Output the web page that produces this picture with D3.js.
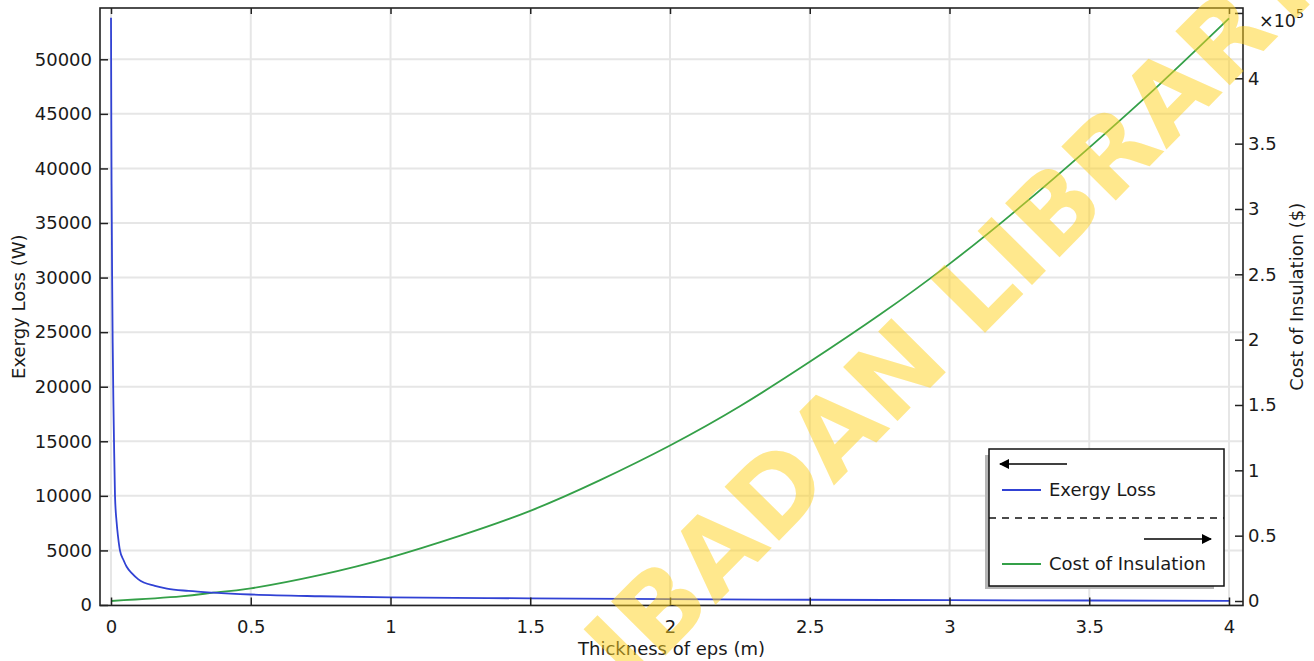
<!DOCTYPE html>
<html>
<head>
<meta charset="utf-8">
<script src="https://cdn.jsdelivr.net/npm/d3@7"></script>
<style>
  html, body { margin: 0; padding: 0; background: #fff; }
  svg { display: block; }
  text { font-family: "DejaVu Sans", sans-serif; fill: #1a1a1a; }
</style>
</head>
<body>
<svg id="chart" width="1314" height="661"></svg>
<script>
// ---- data ----
const thicknessExergy = [0, 0.001, 0.002, 0.004, 0.006, 0.0084, 0.0107, 0.0143, 0.02, 0.025, 0.032, 0.045, 0.056, 0.075, 0.098, 0.157, 0.2, 0.277, 0.366, 0.5, 0.75, 1, 1.5, 2, 2.5, 3, 3.5, 4];
const exergyLoss = [53800, 45000, 38500, 30000, 24000, 18800, 15000, 10000, 7600, 6300, 5000, 4100, 3500, 2900, 2350, 1750, 1500, 1290, 1130, 960, 800, 700, 610, 530, 480, 440, 410, 385];

const thicknessCost = [0, 0.25, 0.366, 0.5, 0.75, 1, 1.25, 1.5, 1.75, 2, 2.25, 2.5, 2.75, 3, 3.25, 3.5, 3.75, 4];
const costInsulation = [0, 3500, 6400, 9700, 20000, 33400, 50000, 69000, 92500, 119000, 149000, 183000, 219000, 258000, 301000, 347000, 395000, 445800];

const xTickValues = [0, 0.5, 1, 1.5, 2, 2.5, 3, 3.5, 4];
const xTickLabels = ["0", "0.5", "1", "1.5", "2", "2.5", "3", "3.5", "4"];
const yLeftTickValues = [0, 5000, 10000, 15000, 20000, 25000, 30000, 35000, 40000, 45000, 50000];
const yRightTickValues = [0, 0.5, 1, 1.5, 2, 2.5, 3, 3.5, 4, 4.5];
const yRightTickLabels = ["0", "0.5", "1", "1.5", "2", "2.5", "3", "3.5", "4", ""];

const seriesNames = ["Exergy Loss", "Cost of Insulation"];
const seriesColors = ["#3142d4", "#34a048"];
const xTitle = "Thickness of eps (m)";
const yLeftTitle = "Exergy Loss (W)";
const yRightTitle = "Cost of Insulation ($)";
const watermark = "UNIVERSITY OF IBADAN LIBRARY";

// ---- layout ----
const plot = { left: 100, right: 1243, top: 8, bottom: 605.5 };
const FS = 18;

const svg = d3.select("#chart");

const x = d3.scaleLinear().domain([-0.0394, 4.0501]).range([plot.left, plot.right]);
const yL = d3.scaleLinear().domain([-46, 54700]).range([plot.bottom, plot.top]);
const yR = d3.scaleLinear().domain([-0.0344, 4.538]).range([plot.bottom, plot.top]);

const defs = svg.append("defs");
defs.append("clipPath").attr("id", "clip")
  .append("rect").attr("x", plot.left).attr("y", plot.top)
  .attr("width", plot.right - plot.left).attr("height", plot.bottom - plot.top);

// grid
const grid = svg.append("g");
grid.selectAll("line.v").data(xTickValues).join("line")
  .attr("x1", d => x(d)).attr("x2", d => x(d))
  .attr("y1", plot.top).attr("y2", plot.bottom)
  .attr("stroke", "#e6e6e6").attr("stroke-width", 2);
grid.selectAll("line.h").data(yLeftTickValues).join("line")
  .attr("x1", plot.left).attr("x2", plot.right)
  .attr("y1", d => yL(d)).attr("y2", d => yL(d))
  .attr("stroke", "#e6e6e6").attr("stroke-width", 2);

// lines
const lines = svg.append("g").attr("clip-path", "url(#clip)");
const exergyData = thicknessExergy.map((t, i) => [t, exergyLoss[i]]);
const costData = thicknessCost.map((t, i) => [t, costInsulation[i] / 1e5]);

lines.append("path").datum(costData)
  .attr("fill", "none").attr("stroke", seriesColors[1]).attr("stroke-width", 1.8)
  .attr("d", d3.line().x(d => x(d[0])).y(d => yR(d[1])).curve(d3.curveNatural));
lines.append("path").datum(exergyData)
  .attr("fill", "none").attr("stroke", seriesColors[0]).attr("stroke-width", 1.8)
  .attr("d", d3.line().x(d => x(d[0])).y(d => yL(d[1])).curve(d3.curveMonotoneX));

// axes (ticks inward)
const axisColor = "#222";
const bottomAxis = d3.axisBottom(x).tickValues(xTickValues).tickSize(-8).tickPadding(15)
  .tickFormat((d, i) => xTickLabels[i]);
const topAxis = d3.axisTop(x).tickValues(xTickValues).tickSize(-6).tickFormat("");
const leftAxis = d3.axisLeft(yL).tickValues(yLeftTickValues).tickSize(-8).tickPadding(8).tickFormat(d3.format("d"));
const rightAxis = d3.axisRight(yR).tickValues(yRightTickValues).tickSize(-8).tickPadding(5)
  .tickFormat((d, i) => yRightTickLabels[i]);

function styleAxis(g) {
  g.select(".domain").remove();
  g.selectAll(".tick line").attr("stroke", axisColor).attr("stroke-width", 1.5);
  g.selectAll(".tick text").attr("font-size", FS).attr("font-family", "DejaVu Sans").attr("fill", "#1a1a1a");
}
svg.append("g").attr("transform", `translate(0,${plot.bottom})`).call(bottomAxis).call(styleAxis);
svg.append("g").attr("transform", `translate(0,${plot.top})`).call(topAxis).call(styleAxis);
svg.append("g").attr("transform", `translate(${plot.left},0)`).call(leftAxis).call(styleAxis);
svg.append("g").attr("transform", `translate(${plot.right},0)`).call(rightAxis).call(styleAxis);

// frame
svg.append("rect").attr("x", plot.left).attr("y", plot.top)
  .attr("width", plot.right - plot.left).attr("height", plot.bottom - plot.top)
  .attr("fill", "none").attr("stroke", axisColor).attr("stroke-width", 1.6);

// titles
svg.append("text").attr("x", (plot.left + plot.right) / 2).attr("y", 655)
  .attr("text-anchor", "middle").attr("font-size", FS).text(xTitle);
svg.append("text").attr("transform", `translate(25,${(plot.top + plot.bottom) / 2}) rotate(-90)`)
  .attr("text-anchor", "middle").attr("font-size", FS).text(yLeftTitle);
svg.append("text").attr("transform", `translate(1303,${(plot.top + plot.bottom) / 2 - 10}) rotate(-90)`)
  .attr("text-anchor", "middle").attr("font-size", FS).text(yRightTitle);
const expo = svg.append("text").attr("x", 1259).attr("y", 27).attr("font-size", FS - 0.5);
expo.append("tspan").text("\u00d710");
expo.append("tspan").attr("dy", -9).attr("font-size", 12.5).text("5");

// legend
const lg = { x: 989, y: 449, w: 235, h: 137 };
const legend = svg.append("g");
legend.append("rect").attr("x", lg.x - 4).attr("y", lg.y + 6).attr("width", lg.w - 6).attr("height", lg.h - 3)
  .attr("fill", "#b5b5b5");
legend.append("rect").attr("x", lg.x).attr("y", lg.y).attr("width", lg.w).attr("height", lg.h)
  .attr("fill", "#fff").attr("stroke", "#111").attr("stroke-width", 1.5);
legend.append("line").attr("x1", lg.x).attr("x2", lg.x + lg.w).attr("y1", lg.y + 69).attr("y2", lg.y + 69)
  .attr("stroke", "#111").attr("stroke-width", 1.5).attr("stroke-dasharray", "7,6");
defs.append("marker").attr("id", "ah").attr("viewBox", "0 0 10 10").attr("refX", 9).attr("refY", 5)
  .attr("markerWidth", 10).attr("markerHeight", 10).attr("markerUnits", "userSpaceOnUse").attr("orient", "auto")
  .append("path").attr("d", "M0,0 L10,5 L0,10 Z").attr("fill", "#000");
legend.append("line").attr("x1", lg.x + 78).attr("x2", lg.x + 11).attr("y1", lg.y + 15).attr("y2", lg.y + 15)
  .attr("stroke", "#000").attr("stroke-width", 1.4).attr("marker-end", "url(#ah)");
legend.append("line").attr("x1", lg.x + 155).attr("x2", lg.x + 222).attr("y1", lg.y + 90).attr("y2", lg.y + 90)
  .attr("stroke", "#000").attr("stroke-width", 1.4).attr("marker-end", "url(#ah)");
[0, 1].forEach(i => {
  const yy = lg.y + (i === 0 ? 41 : 115);
  legend.append("line").attr("x1", lg.x + 13).attr("x2", lg.x + 52).attr("y1", yy).attr("y2", yy)
    .attr("stroke", seriesColors[i]).attr("stroke-width", 1.8);
  legend.append("text").attr("x", lg.x + 60).attr("y", yy + 6).attr("font-size", FS).text(seriesNames[i]);
});

// watermark
const wmFs = 105;
const wg = svg.append("g").attr("transform", "translate(776,490) rotate(-45.3)");
const wt = wg.append("text").attr("font-family", "Liberation Sans, Arial, sans-serif").attr("font-weight", "bold")
  .attr("font-size", wmFs).style("fill", "#ffd21e").attr("opacity", 0.5).text(watermark);
const node = wt.node();
const idx = watermark.indexOf("IBADAN") + 3;
const off = node.getSubStringLength(0, idx) + node.getSubStringLength(idx, 1) / 2;
wt.attr("x", -off).attr("y", wmFs * 0.36);
</script>
</body>
</html>
